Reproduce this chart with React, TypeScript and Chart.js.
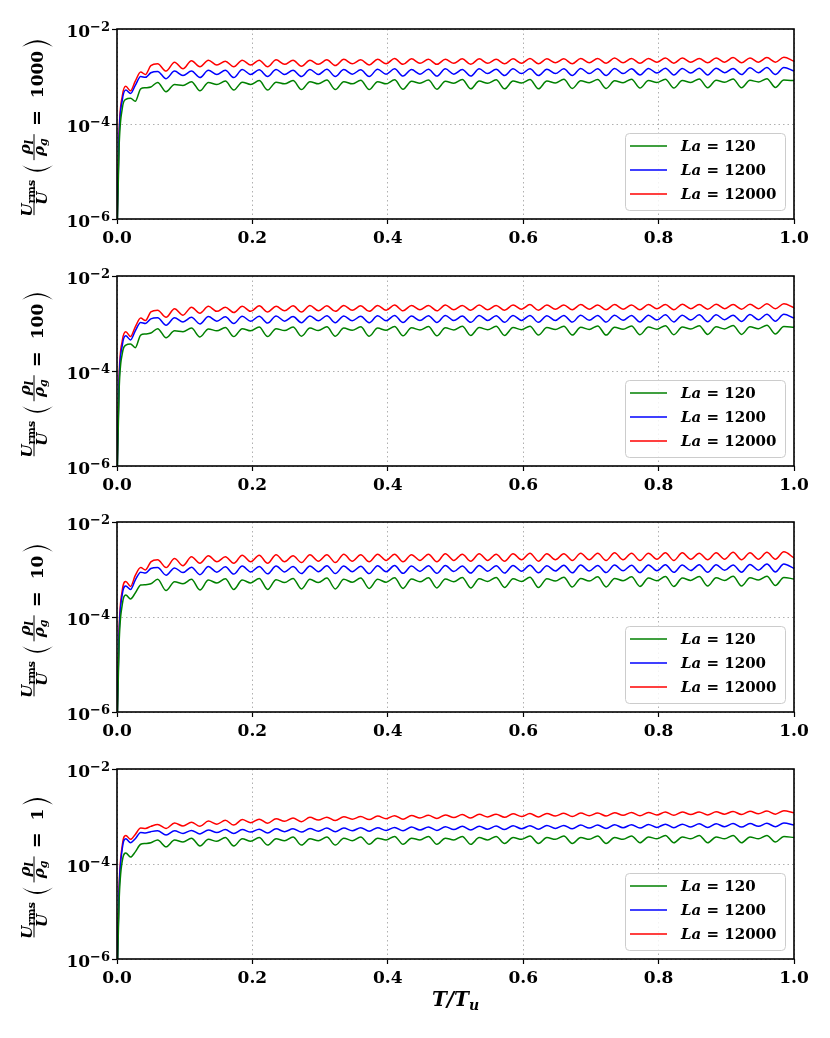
import { useEffect, useRef } from 'react'
import { Chart, registerables } from 'chart.js'

Chart.register(...registerables)

const SERIF = '"DejaVu Serif", "Liberation Serif", serif'

// time axis T/Tu (shared by every series)
const T = [
  0, 0.003, 0.008, 0.013, 0.02, 0.027, 0.035, 0.042, 0.05, 0.06,
  0.0725, 0.085, 0.0975, 0.11, 0.1225, 0.135, 0.1475, 0.16, 0.1725, 0.185,
  0.1975, 0.21, 0.2225, 0.235, 0.2475, 0.26, 0.2725, 0.285, 0.2975, 0.31,
  0.3225, 0.335, 0.3475, 0.36, 0.3725, 0.385, 0.3975, 0.41, 0.4225, 0.435,
  0.4475, 0.46, 0.4725, 0.485, 0.4975, 0.51, 0.5225, 0.535, 0.5475, 0.56,
  0.5725, 0.585, 0.5975, 0.61, 0.6225, 0.635, 0.6475, 0.66, 0.6725, 0.685,
  0.6975, 0.71, 0.7225, 0.735, 0.7475, 0.76, 0.7725, 0.785, 0.7975, 0.81,
  0.8225, 0.835, 0.8475, 0.86, 0.8725, 0.885, 0.8975, 0.91, 0.9225, 0.935,
  0.9475, 0.96, 0.9725, 0.985, 1.0,
]

const X_TICKS = [0, 0.2, 0.4, 0.6, 0.8, 1.0]
const Y_TICKS = [1e-6, 1e-4, 1e-2]
const LA = ['120', '1200', '12000']
const COLORS = ['#008000', '#0000ff', '#ff0000']
const RATIOS = ['1000', '100', '10', '1']

// rho_l / rho_g = 1000
const GREEN_1000 = [
  3e-7, 3e-5, 2.2e-4, 3.3e-4, 3.5e-4, 3.0e-4, 5.5e-4, 5.8e-4, 6.0e-4, 7.5e-4,
  4.8e-4, 6.8e-4, 6.5e-4, 7.8e-4, 5.0e-4, 7.5e-4, 6.8e-4, 8.0e-4, 5.2e-4, 7.6e-4,
  6.8e-4, 8.2e-4, 5.2e-4, 7.6e-4, 7.0e-4, 8.2e-4, 5.3e-4, 7.8e-4, 7.0e-4, 8.4e-4,
  5.3e-4, 7.8e-4, 7.0e-4, 8.3e-4, 5.3e-4, 7.8e-4, 7.0e-4, 8.5e-4, 5.4e-4, 7.9e-4,
  7.2e-4, 8.4e-4, 5.4e-4, 7.9e-4, 7.2e-4, 8.6e-4, 5.5e-4, 8.0e-4, 7.2e-4, 8.5e-4,
  5.5e-4, 8.0e-4, 7.3e-4, 8.6e-4, 5.5e-4, 8.0e-4, 7.3e-4, 8.7e-4, 5.6e-4, 8.1e-4,
  7.4e-4, 8.6e-4, 5.6e-4, 8.1e-4, 7.4e-4, 8.8e-4, 5.7e-4, 8.2e-4, 7.5e-4, 8.8e-4,
  5.7e-4, 8.2e-4, 7.5e-4, 8.9e-4, 5.8e-4, 8.3e-4, 7.6e-4, 8.9e-4, 5.8e-4, 8.3e-4,
  7.7e-4, 9.0e-4, 5.9e-4, 8.4e-4, 8.2e-4,
]
const BLUE_1000 = [
  4e-7, 5e-5, 3.3e-4, 5.2e-4, 4.4e-4, 6.5e-4, 1.0e-3, 9.6e-4, 1.2e-3, 1.28e-3,
  9e-4, 1.3e-3, 1.05e-3, 1.3e-3, 9.5e-4, 1.35e-3, 1.1e-3, 1.35e-3, 9.5e-4, 1.4e-3,
  1.1e-3, 1.38e-3, 1.0e-3, 1.4e-3, 1.1e-3, 1.35e-3, 1.0e-3, 1.4e-3, 1.1e-3, 1.42e-3,
  1.0e-3, 1.4e-3, 1.12e-3, 1.38e-3, 1.0e-3, 1.42e-3, 1.12e-3, 1.45e-3, 1.02e-3, 1.4e-3,
  1.12e-3, 1.42e-3, 1.02e-3, 1.45e-3, 1.12e-3, 1.4e-3, 1.02e-3, 1.45e-3, 1.15e-3, 1.42e-3,
  1.05e-3, 1.45e-3, 1.15e-3, 1.45e-3, 1.05e-3, 1.42e-3, 1.15e-3, 1.45e-3, 1.05e-3, 1.48e-3,
  1.15e-3, 1.45e-3, 1.05e-3, 1.48e-3, 1.15e-3, 1.45e-3, 1.08e-3, 1.48e-3, 1.18e-3, 1.5e-3,
  1.08e-3, 1.48e-3, 1.18e-3, 1.5e-3, 1.08e-3, 1.5e-3, 1.2e-3, 1.48e-3, 1.1e-3, 1.52e-3,
  1.2e-3, 1.55e-3, 1.1e-3, 1.55e-3, 1.3e-3,
]
const RED_1000 = [
  5e-7, 6e-5, 4e-4, 6.2e-4, 5e-4, 8e-4, 1.25e-3, 1.1e-3, 1.7e-3, 1.85e-3,
  1.3e-3, 2.0e-3, 1.45e-3, 2.15e-3, 1.6e-3, 2.2e-3, 1.75e-3, 2.1e-3, 1.6e-3, 2.2e-3,
  1.75e-3, 2.2e-3, 1.6e-3, 2.25e-3, 1.8e-3, 2.2e-3, 1.65e-3, 2.2e-3, 1.8e-3, 2.25e-3,
  1.7e-3, 2.3e-3, 1.85e-3, 2.25e-3, 1.75e-3, 2.3e-3, 1.85e-3, 2.4e-3, 1.8e-3, 2.35e-3,
  1.9e-3, 2.3e-3, 1.8e-3, 2.3e-3, 1.9e-3, 2.35e-3, 1.8e-3, 2.35e-3, 1.9e-3, 2.3e-3,
  1.85e-3, 2.35e-3, 1.9e-3, 2.4e-3, 1.85e-3, 2.35e-3, 1.95e-3, 2.35e-3, 1.85e-3, 2.4e-3,
  1.95e-3, 2.4e-3, 1.9e-3, 2.45e-3, 1.95e-3, 2.4e-3, 1.9e-3, 2.4e-3, 2.0e-3, 2.45e-3,
  1.9e-3, 2.45e-3, 2.0e-3, 2.4e-3, 1.95e-3, 2.45e-3, 2.0e-3, 2.5e-3, 1.95e-3, 2.45e-3,
  2.0e-3, 2.5e-3, 2.0e-3, 2.55e-3, 2.1e-3,
]

// rho_l / rho_g = 100
const GREEN_100 = [
  3e-7, 3.5e-5, 2.4e-4, 3.5e-4, 3.7e-4, 3.1e-4, 5.7e-4, 6.0e-4, 6.3e-4, 7.8e-4,
  5.0e-4, 7.0e-4, 6.7e-4, 8.0e-4, 5.2e-4, 7.7e-4, 7.0e-4, 8.2e-4, 5.3e-4, 7.8e-4,
  7.0e-4, 8.4e-4, 5.3e-4, 7.8e-4, 7.1e-4, 8.4e-4, 5.4e-4, 8.0e-4, 7.1e-4, 8.5e-4,
  5.4e-4, 8.0e-4, 7.2e-4, 8.5e-4, 5.4e-4, 8.0e-4, 7.2e-4, 8.6e-4, 5.5e-4, 8.1e-4,
  7.3e-4, 8.6e-4, 5.5e-4, 8.1e-4, 7.3e-4, 8.7e-4, 5.6e-4, 8.2e-4, 7.4e-4, 8.7e-4,
  5.6e-4, 8.2e-4, 7.4e-4, 8.8e-4, 5.7e-4, 8.2e-4, 7.5e-4, 8.8e-4, 5.7e-4, 8.3e-4,
  7.5e-4, 8.9e-4, 5.7e-4, 8.3e-4, 7.6e-4, 8.9e-4, 5.8e-4, 8.4e-4, 7.6e-4, 9.0e-4,
  5.8e-4, 8.4e-4, 7.7e-4, 9.0e-4, 5.9e-4, 8.5e-4, 7.7e-4, 9.1e-4, 5.9e-4, 8.5e-4,
  7.8e-4, 9.2e-4, 6.0e-4, 8.6e-4, 8.3e-4,
]
const BLUE_100 = [
  4e-7, 5.5e-5, 3.6e-4, 5.5e-4, 4.5e-4, 7e-4, 1.05e-3, 1.0e-3, 1.25e-3, 1.32e-3,
  9.2e-4, 1.32e-3, 1.08e-3, 1.35e-3, 9.8e-4, 1.4e-3, 1.12e-3, 1.38e-3, 1.0e-3, 1.42e-3,
  1.12e-3, 1.42e-3, 1.02e-3, 1.44e-3, 1.12e-3, 1.4e-3, 1.04e-3, 1.44e-3, 1.14e-3, 1.46e-3,
  1.04e-3, 1.44e-3, 1.14e-3, 1.42e-3, 1.04e-3, 1.46e-3, 1.14e-3, 1.48e-3, 1.05e-3, 1.44e-3,
  1.15e-3, 1.46e-3, 1.05e-3, 1.48e-3, 1.15e-3, 1.44e-3, 1.06e-3, 1.48e-3, 1.16e-3, 1.46e-3,
  1.06e-3, 1.48e-3, 1.16e-3, 1.48e-3, 1.06e-3, 1.46e-3, 1.16e-3, 1.48e-3, 1.07e-3, 1.5e-3,
  1.17e-3, 1.48e-3, 1.07e-3, 1.5e-3, 1.17e-3, 1.48e-3, 1.08e-3, 1.5e-3, 1.18e-3, 1.52e-3,
  1.08e-3, 1.5e-3, 1.18e-3, 1.52e-3, 1.09e-3, 1.52e-3, 1.2e-3, 1.5e-3, 1.1e-3, 1.54e-3,
  1.2e-3, 1.56e-3, 1.12e-3, 1.56e-3, 1.3e-3,
]
const RED_100 = [
  5e-7, 7e-5, 4.5e-4, 6.7e-4, 5.3e-4, 8.5e-4, 1.3e-3, 1.15e-3, 1.75e-3, 1.9e-3,
  1.35e-3, 2.05e-3, 1.5e-3, 2.2e-3, 1.65e-3, 2.3e-3, 1.8e-3, 2.2e-3, 1.7e-3, 2.3e-3,
  1.8e-3, 2.35e-3, 1.75e-3, 2.3e-3, 1.85e-3, 2.35e-3, 1.75e-3, 2.4e-3, 1.85e-3, 2.35e-3,
  1.8e-3, 2.4e-3, 1.9e-3, 2.35e-3, 1.8e-3, 2.4e-3, 1.9e-3, 2.45e-3, 1.85e-3, 2.4e-3,
  1.95e-3, 2.4e-3, 1.85e-3, 2.45e-3, 1.95e-3, 2.4e-3, 1.9e-3, 2.45e-3, 1.95e-3, 2.4e-3,
  1.9e-3, 2.45e-3, 2.0e-3, 2.5e-3, 1.9e-3, 2.45e-3, 2.0e-3, 2.45e-3, 1.95e-3, 2.5e-3,
  2.0e-3, 2.45e-3, 1.95e-3, 2.5e-3, 2.0e-3, 2.45e-3, 1.95e-3, 2.5e-3, 2.05e-3, 2.5e-3,
  1.95e-3, 2.55e-3, 2.05e-3, 2.5e-3, 2.0e-3, 2.55e-3, 2.05e-3, 2.5e-3, 2.0e-3, 2.55e-3,
  2.05e-3, 2.6e-3, 2.05e-3, 2.6e-3, 2.15e-3,
]

// rho_l / rho_g = 10
const GREEN_10 = [
  2.5e-7, 2.5e-5, 1.9e-4, 2.9e-4, 2.4e-4, 3.2e-4, 4.7e-4, 4.8e-4, 5.0e-4, 6.2e-4,
  3.6e-4, 5.5e-4, 5.0e-4, 6.2e-4, 3.7e-4, 6.0e-4, 5.2e-4, 6.4e-4, 3.8e-4, 6.0e-4,
  5.2e-4, 6.5e-4, 3.8e-4, 6.1e-4, 5.3e-4, 6.5e-4, 3.9e-4, 6.2e-4, 5.3e-4, 6.6e-4,
  3.9e-4, 6.2e-4, 5.4e-4, 6.6e-4, 4.0e-4, 6.2e-4, 5.4e-4, 6.7e-4, 4.0e-4, 6.3e-4,
  5.5e-4, 6.7e-4, 4.1e-4, 6.3e-4, 5.5e-4, 6.8e-4, 4.1e-4, 6.4e-4, 5.6e-4, 6.8e-4,
  4.2e-4, 6.4e-4, 5.6e-4, 6.9e-4, 4.2e-4, 6.4e-4, 5.7e-4, 6.9e-4, 4.3e-4, 6.5e-4,
  5.7e-4, 7.0e-4, 4.3e-4, 6.5e-4, 5.8e-4, 7.0e-4, 4.4e-4, 6.6e-4, 5.8e-4, 7.1e-4,
  4.4e-4, 6.6e-4, 5.9e-4, 7.1e-4, 4.5e-4, 6.7e-4, 5.9e-4, 7.2e-4, 4.5e-4, 6.7e-4,
  6.0e-4, 7.2e-4, 4.6e-4, 6.8e-4, 6.3e-4,
]
const BLUE_10 = [
  3.5e-7, 4e-5, 3.1e-4, 4.5e-4, 3.8e-4, 6e-4, 8.8e-4, 8.4e-4, 1.05e-3, 1.1e-3,
  7.6e-4, 1.08e-3, 8.6e-4, 1.12e-3, 7.8e-4, 1.15e-3, 8.8e-4, 1.14e-3, 8.0e-4, 1.18e-3,
  8.9e-4, 1.16e-3, 8.1e-4, 1.18e-3, 8.9e-4, 1.15e-3, 8.2e-4, 1.19e-3, 9.0e-4, 1.2e-3,
  8.2e-4, 1.18e-3, 9.0e-4, 1.17e-3, 8.2e-4, 1.2e-3, 9.0e-4, 1.21e-3, 8.3e-4, 1.18e-3,
  9.1e-4, 1.2e-3, 8.3e-4, 1.22e-3, 9.1e-4, 1.19e-3, 8.4e-4, 1.22e-3, 9.2e-4, 1.2e-3,
  8.4e-4, 1.22e-3, 9.2e-4, 1.23e-3, 8.5e-4, 1.2e-3, 9.3e-4, 1.23e-3, 8.5e-4, 1.24e-3,
  9.3e-4, 1.22e-3, 8.6e-4, 1.24e-3, 9.4e-4, 1.23e-3, 8.6e-4, 1.25e-3, 9.4e-4, 1.26e-3,
  8.7e-4, 1.24e-3, 9.5e-4, 1.26e-3, 8.7e-4, 1.26e-3, 9.6e-4, 1.25e-3, 8.8e-4, 1.28e-3,
  9.7e-4, 1.3e-3, 8.9e-4, 1.3e-3, 1.05e-3,
]
const RED_10 = [
  4e-7, 5e-5, 3.8e-4, 5.6e-4, 4.4e-4, 7.5e-4, 1.1e-3, 9.8e-4, 1.45e-3, 1.6e-3,
  1.1e-3, 1.7e-3, 1.2e-3, 1.85e-3, 1.35e-3, 1.95e-3, 1.45e-3, 1.85e-3, 1.35e-3, 2.0e-3,
  1.45e-3, 2.0e-3, 1.35e-3, 2.05e-3, 1.45e-3, 1.95e-3, 1.4e-3, 2.05e-3, 1.5e-3, 2.05e-3,
  1.4e-3, 2.1e-3, 1.5e-3, 2.05e-3, 1.45e-3, 2.1e-3, 1.55e-3, 2.1e-3, 1.45e-3, 2.05e-3,
  1.55e-3, 2.1e-3, 1.45e-3, 2.15e-3, 1.55e-3, 2.1e-3, 1.5e-3, 2.15e-3, 1.55e-3, 2.1e-3,
  1.5e-3, 2.15e-3, 1.6e-3, 2.2e-3, 1.5e-3, 2.15e-3, 1.6e-3, 2.15e-3, 1.55e-3, 2.2e-3,
  1.6e-3, 2.2e-3, 1.55e-3, 2.25e-3, 1.6e-3, 2.2e-3, 1.55e-3, 2.2e-3, 1.65e-3, 2.25e-3,
  1.55e-3, 2.25e-3, 1.65e-3, 2.2e-3, 1.6e-3, 2.25e-3, 1.65e-3, 2.3e-3, 1.6e-3, 2.25e-3,
  1.65e-3, 2.3e-3, 1.65e-3, 2.35e-3, 1.75e-3,
]

// rho_l / rho_g = 1
const GREEN_1 = [
  2e-7, 1.5e-5, 1.2e-4, 1.7e-4, 1.4e-4, 1.8e-4, 2.6e-4, 2.7e-4, 2.8e-4, 3.2e-4,
  2.3e-4, 3.2e-4, 2.9e-4, 3.5e-4, 2.4e-4, 3.3e-4, 3.0e-4, 3.6e-4, 2.4e-4, 3.4e-4,
  3.0e-4, 3.6e-4, 2.5e-4, 3.4e-4, 3.1e-4, 3.7e-4, 2.5e-4, 3.4e-4, 3.1e-4, 3.7e-4,
  2.5e-4, 3.5e-4, 3.1e-4, 3.7e-4, 2.6e-4, 3.5e-4, 3.2e-4, 3.8e-4, 2.6e-4, 3.5e-4,
  3.2e-4, 3.8e-4, 2.6e-4, 3.5e-4, 3.2e-4, 3.8e-4, 2.6e-4, 3.6e-4, 3.2e-4, 3.8e-4,
  2.7e-4, 3.6e-4, 3.3e-4, 3.9e-4, 2.7e-4, 3.6e-4, 3.3e-4, 3.9e-4, 2.7e-4, 3.6e-4,
  3.3e-4, 3.9e-4, 2.7e-4, 3.6e-4, 3.3e-4, 3.9e-4, 2.8e-4, 3.7e-4, 3.4e-4, 4.0e-4,
  2.8e-4, 3.7e-4, 3.4e-4, 4.0e-4, 2.8e-4, 3.7e-4, 3.4e-4, 4.0e-4, 2.8e-4, 3.7e-4,
  3.4e-4, 4.0e-4, 2.9e-4, 3.8e-4, 3.6e-4,
]
const BLUE_1 = [
  2.5e-7, 2.5e-5, 2.2e-4, 3.4e-4, 2.8e-4, 3.4e-4, 4.6e-4, 4.5e-4, 4.8e-4, 5.0e-4,
  4.1e-4, 5.0e-4, 4.4e-4, 5.1e-4, 4.3e-4, 5.2e-4, 4.6e-4, 5.3e-4, 4.4e-4, 5.3e-4,
  4.7e-4, 5.4e-4, 4.5e-4, 5.5e-4, 4.8e-4, 5.5e-4, 4.7e-4, 5.6e-4, 4.9e-4, 5.7e-4,
  4.8e-4, 5.7e-4, 5.0e-4, 5.8e-4, 4.9e-4, 5.8e-4, 5.1e-4, 5.9e-4, 5.0e-4, 6.0e-4,
  5.2e-4, 6.0e-4, 5.1e-4, 6.1e-4, 5.3e-4, 6.2e-4, 5.2e-4, 6.2e-4, 5.4e-4, 6.3e-4,
  5.3e-4, 6.4e-4, 5.5e-4, 6.4e-4, 5.4e-4, 6.5e-4, 5.6e-4, 6.5e-4, 5.5e-4, 6.6e-4,
  5.7e-4, 6.6e-4, 5.6e-4, 6.7e-4, 5.8e-4, 6.7e-4, 5.7e-4, 6.8e-4, 5.9e-4, 6.9e-4,
  5.8e-4, 6.9e-4, 6.0e-4, 7.0e-4, 5.9e-4, 7.0e-4, 6.1e-4, 7.1e-4, 6.0e-4, 7.1e-4,
  6.2e-4, 7.2e-4, 6.1e-4, 7.3e-4, 6.6e-4,
]
const RED_1 = [
  3e-7, 3e-5, 2.6e-4, 4.0e-4, 3.3e-4, 4.2e-4, 5.7e-4, 5.6e-4, 6.2e-4, 6.8e-4,
  5.6e-4, 7.3e-4, 6.3e-4, 7.6e-4, 6.2e-4, 8.0e-4, 6.9e-4, 8.3e-4, 6.6e-4, 8.6e-4,
  7.4e-4, 8.8e-4, 7.2e-4, 9.0e-4, 7.9e-4, 9.3e-4, 7.8e-4, 9.6e-4, 8.4e-4, 9.7e-4,
  8.2e-4, 9.9e-4, 8.8e-4, 1.0e-3, 8.6e-4, 1.02e-3, 9.0e-4, 1.04e-3, 8.8e-4, 1.05e-3,
  9.3e-4, 1.06e-3, 9.1e-4, 1.08e-3, 9.5e-4, 1.1e-3, 9.3e-4, 1.11e-3, 9.8e-4, 1.12e-3,
  9.6e-4, 1.14e-3, 1.0e-3, 1.15e-3, 9.8e-4, 1.16e-3, 1.02e-3, 1.17e-3, 1.0e-3, 1.18e-3,
  1.04e-3, 1.19e-3, 1.02e-3, 1.2e-3, 1.06e-3, 1.22e-3, 1.04e-3, 1.22e-3, 1.08e-3, 1.24e-3,
  1.06e-3, 1.24e-3, 1.1e-3, 1.25e-3, 1.08e-3, 1.26e-3, 1.12e-3, 1.28e-3, 1.1e-3, 1.29e-3,
  1.14e-3, 1.3e-3, 1.12e-3, 1.32e-3, 1.2e-3,
]

const SERIES = [
  [GREEN_1000, BLUE_1000, RED_1000],
  [GREEN_100, BLUE_100, RED_100],
  [GREEN_10, BLUE_10, RED_10],
  [GREEN_1, BLUE_1, RED_1],
]

// canvas placement: plot box sits 29..219 inside each canvas
const CANVAS_TOP = [0, 247, 493, 740]
const CANVAS_H = [246, 246, 246, 298]
const AREA_TOP = 29
const AREA_BOTTOM = 219

type Piece = [string, string, number?]

function row(ctx: CanvasRenderingContext2D, pieces: Piece[], cx: number, base: number) {
  let w = 0
  for (const p of pieces) { ctx.font = p[1]; w += ctx.measureText(p[0]).width }
  let x = cx - w / 2
  for (const p of pieces) {
    ctx.font = p[1]
    ctx.fillText(p[0], x, base + (p[2] || 0))
    x += ctx.measureText(p[0]).width
  }
}

function paren(ctx: CanvasRenderingContext2D, u: number, w: number, open: boolean) {
  const top = -12, bot = 19, mid = (top + bot) / 2
  const end = open ? u + w - 2 : u + 2
  const outer = open ? u - 3 : u + w + 3
  const inner = open ? u + 0.6 : u + w - 0.6
  ctx.beginPath()
  ctx.moveTo(end, top)
  ctx.quadraticCurveTo(outer, mid, end, bot)
  ctx.quadraticCurveTo(inner, mid, end, top)
  ctx.fill()
}

function drawYLabel(ctx: CanvasRenderingContext2D, cx: number, cy: number, ratio: string) {
  const fU = `italic bold 15px ${SERIF}`
  const fSub = `bold 11px ${SERIF}`
  const fSubI = `italic bold 11px ${SERIF}`
  const fNum = `bold 17px ${SERIF}`
  const fEq = `bold 19px ${SERIF}`
  ctx.save()
  ctx.font = fNum
  const numW = ctx.measureText(ratio).width
  const wA = 34, wP = 12, wB = 26, wEq = 20
  const total = wA + 6 + wP + 3 + wB + 6 + wEq + 10 + numW + 2 + wP
  ctx.translate(cx, cy)
  ctx.rotate(-Math.PI / 2)
  ctx.fillStyle = '#000'
  ctx.strokeStyle = '#000'
  ctx.textBaseline = 'alphabetic'
  ctx.textAlign = 'left'
  let u = -total / 2
  // U_rms / U
  row(ctx, [['U', fU], ['rms', fSub, 3]], u + wA / 2, -2.5)
  row(ctx, [['U', fU]], u + wA / 2, 12.5)
  ctx.lineWidth = 1
  ctx.beginPath(); ctx.moveTo(u, 0); ctx.lineTo(u + wA, 0); ctx.stroke()
  u += wA + 6
  paren(ctx, u, wP, true)
  u += wP + 3
  // rho_l / rho_g
  row(ctx, [['ρ', fU], ['l', fSubI, 3]], u + wB / 2, -4.5)
  row(ctx, [['ρ', fU], ['g', fSubI, 3]], u + wB / 2, 10)
  ctx.beginPath(); ctx.moveTo(u, 0); ctx.lineTo(u + wB, 0); ctx.stroke()
  u += wB + 6
  row(ctx, [['=', fEq]], u + wEq / 2, 9)
  u += wEq + 10
  ctx.font = fNum
  ctx.fillText(ratio, u, 9)
  u += numW + 2
  paren(ctx, u, wP, false)
  ctx.restore()
}

const decor = {
  id: 'decor',
  afterDatasetsDraw(chart: any) {
    // legend box, lower right inside the axes
    const { ctx, chartArea } = chart
    const w = 160, h = 77
    const left = chartArea.right - 9 - w
    const top = chartArea.bottom - 9 - h
    ctx.save()
    ctx.beginPath()
    ctx.roundRect(left + 0.5, top + 0.5, w, h, 4)
    ctx.fillStyle = 'rgba(255,255,255,0.85)'
    ctx.fill()
    ctx.strokeStyle = '#cccccc'
    ctx.lineWidth = 1
    ctx.stroke()
    chart.data.datasets.forEach((ds: any, i: number) => {
      const y = top + 13 + 24 * i
      ctx.strokeStyle = ds.borderColor
      ctx.lineWidth = 1.5
      ctx.beginPath(); ctx.moveTo(left + 5, y); ctx.lineTo(left + 42, y); ctx.stroke()
      ctx.fillStyle = '#000'
      ctx.textBaseline = 'alphabetic'
      ctx.font = `italic bold 15px ${SERIF}`
      ctx.fillText('La', left + 56, y + 5)
      const lw = ctx.measureText('La').width
      ctx.font = `bold 15px ${SERIF}`
      ctx.fillText(' = ' + LA[i], left + 56 + lw, y + 5)
    })
    ctx.restore()
  },
  afterDraw(chart: any, _args: any, opts: any) {
    const { ctx, chartArea, scales } = chart
    ctx.save()
    // frame
    ctx.strokeStyle = '#000'
    ctx.lineWidth = 1.6
    ctx.strokeRect(chartArea.left, chartArea.top, chartArea.right - chartArea.left, chartArea.bottom - chartArea.top)
    ctx.fillStyle = '#000'
    // x tick labels
    ctx.font = `bold 17px ${SERIF}`
    ctx.textAlign = 'center'
    ctx.textBaseline = 'alphabetic'
    for (const t of scales.x.ticks) {
      ctx.fillText(t.value.toFixed(1), scales.x.getPixelForValue(t.value), chartArea.bottom + 24)
    }
    // y tick labels 10^n
    ctx.textAlign = 'left'
    for (const t of scales.y.ticks) {
      const y = scales.y.getPixelForValue(t.value)
      const sup = '−' + Math.abs(Math.round(Math.log10(t.value)))
      ctx.font = `bold 13px ${SERIF}`
      const sw = ctx.measureText(sup).width
      ctx.font = `bold 17px ${SERIF}`
      const tw = ctx.measureText('10').width
      const right = chartArea.left - 7
      ctx.fillText('10', right - sw - tw, y + 8)
      ctx.font = `bold 13px ${SERIF}`
      ctx.fillText(sup, right - sw, y + 2)
    }
    drawYLabel(ctx, 34, (chartArea.top + chartArea.bottom) / 2 + 2, opts.ratio)
    if (opts.xTitle) {
      const fT = `italic bold 20px ${SERIF}`
      const fS = `italic bold 14px ${SERIF}`
      ctx.font = fT
      const a = ctx.measureText('T/T').width
      ctx.font = fS
      const b = ctx.measureText('u').width
      const x0 = (chartArea.left + chartArea.right) / 2 - (a + b) / 2
      ctx.font = fT
      ctx.fillText('T/T', x0, chartArea.bottom + 47)
      ctx.font = fS
      ctx.fillText('u', x0 + a, chartArea.bottom + 51)
    }
    ctx.restore()
  },
}

function Panel({ index }: { index: number }) {
  const ref = useRef<HTMLCanvasElement>(null)
  const h = CANVAS_H[index]

  useEffect(() => {
    if (!ref.current) return
    const grid = { color: '#b0b0b0', lineWidth: 1, tickColor: '#000', tickLength: 5, tickWidth: 1.2 }
    const border = { display: false, dash: [1.5, 3] }
    const chart = new Chart(ref.current, {
      type: 'line',
      data: {
        datasets: SERIES[index].map((vals, i) => ({
          label: 'La = ' + LA[i],
          data: T.map((x, j) => ({ x, y: vals[j] })),
          borderColor: COLORS[i],
          borderWidth: 1.5,
          pointRadius: 0,
          fill: false,
          cubicInterpolationMode: 'monotone' as const,
        })),
      },
      options: {
        animation: false,
        responsive: false,
        events: [],
        layout: { padding: { left: 0, top: AREA_TOP, right: 36, bottom: 0 } },
        plugins: {
          legend: { display: false },
          tooltip: { enabled: false },
          // @ts-ignore custom plugin options
          decor: { ratio: RATIOS[index], xTitle: index === 3 },
        },
        scales: {
          x: {
            type: 'linear',
            min: 0,
            max: 1,
            afterBuildTicks: (s: any) => { s.ticks = X_TICKS.map((v) => ({ value: v })) },
            afterFit: (s: any) => { s.height = h - AREA_BOTTOM },
            ticks: { display: false },
            grid,
            border,
          },
          y: {
            type: 'logarithmic',
            min: 1e-6,
            max: 1e-2,
            afterBuildTicks: (s: any) => { s.ticks = Y_TICKS.map((v) => ({ value: v })) },
            afterFit: (s: any) => { s.width = 117 },
            ticks: { display: false },
            grid,
            border,
          },
        },
      },
      plugins: [decor],
    } as any)
    return () => chart.destroy()
  }, [index, h])

  return (
    <canvas
      ref={ref}
      width={830}
      height={h}
      style={{ position: 'absolute', left: 0, top: CANVAS_TOP[index], width: 830, height: h }}
    />
  )
}

export default function App() {
  return (
    <div style={{ position: 'absolute', left: 0, top: 0, width: 830, height: 1038, background: '#fff' }}>
      {[0, 1, 2, 3].map((i) => <Panel key={i} index={i} />)}
    </div>
  )
}
